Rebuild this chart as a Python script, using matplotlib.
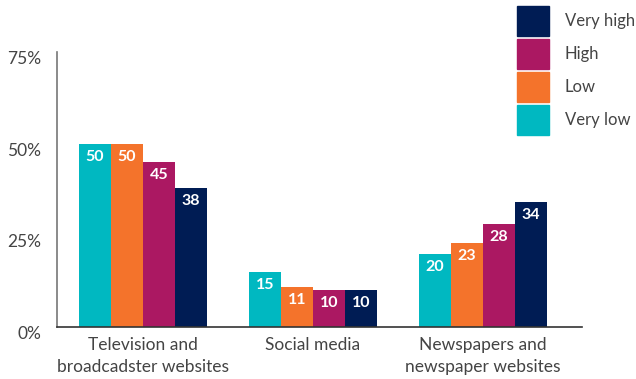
import matplotlib
matplotlib.use("Agg")
import matplotlib.pyplot as plt
from matplotlib.patches import Rectangle
from matplotlib.transforms import ScaledTranslation
import numpy as np

plt.rcParams['font.family'] = ['Lato', 'DejaVu Sans']

categories = ["Television and\nbroadcadster websites", "Social media", "Newspapers and\nnewspaper websites"]
series_names = ["Very low", "Low", "High", "Very high"]
very_low = [50, 15, 20]
low = [50, 11, 23]
high = [45, 10, 28]
very_high = [38, 10, 34]
yticks = [0, 25, 50, 75]
ytick_labels = ["0%", "25%", "50%", "75%"]

series = [very_low, low, high, very_high]
colors = ["#00b8c1", "#f4732b", "#ab1862", "#001c54"]
text_color = "#444444"

fig = plt.figure(figsize=(6.36, 3.79), dpi=100)
ax = fig.add_axes([57/636, 52/379, (582-57)/636, (327-52)/379])

x = np.arange(len(categories))
w = 32/170
offsets = (np.arange(4) - 1.5) * w
for s, vals, col, off in zip(series_names, series, colors, offsets):
    ax.bar(x + off, vals, width=w, color=col, label=s, zorder=2)
    for xi, v in zip(x + off, vals):
        ax.text(xi, v, f"{v}", ha="center", va="top", color="white",
                fontsize=11.5, fontweight="bold",
                transform=ax.transData + ScaledTranslation(0, -6/100, fig.dpi_scale_trans))

ax.set_xlim((57-143)/170, (582-143)/170)
ax.set_ylim(0, 75)

for sp in ["top", "right"]:
    ax.spines[sp].set_visible(False)
ax.spines["left"].set_color("#777777")
ax.spines["left"].set_linewidth(1.2)
ax.spines["bottom"].set_color("#333333")
ax.spines["bottom"].set_linewidth(1.2)

ax.set_yticks(yticks)
ax.set_yticklabels([])
ax.tick_params(axis="y", length=0)
for yv, lab in zip(yticks, ytick_labels):
    ax.text(0, yv, lab, ha="right", va="top", color=text_color, fontsize=12.5,
            transform=ax.get_yaxis_transform() + ScaledTranslation(-16/100, 1/100, fig.dpi_scale_trans))

ax.set_xticks(x)
ax.set_xticklabels(categories, color=text_color, fontsize=12.5, linespacing=1.4)
ax.tick_params(axis="x", length=0, pad=7.5)

# legend (manual, top-right)
leg_items = list(zip(series_names, colors))[::-1]
for i, (name, col) in enumerate(leg_items):
    top = 6 + i * 33
    fig.add_artist(Rectangle((517/636, 1 - (top + 30)/379), 32/636, 30/379,
                             transform=fig.transFigure, color=col))
    fig.text(565/636, 1 - (top + 15)/379, name, ha="left", va="center",
             color=text_color, fontsize=12)

fig.savefig("out.png", dpi=100)
